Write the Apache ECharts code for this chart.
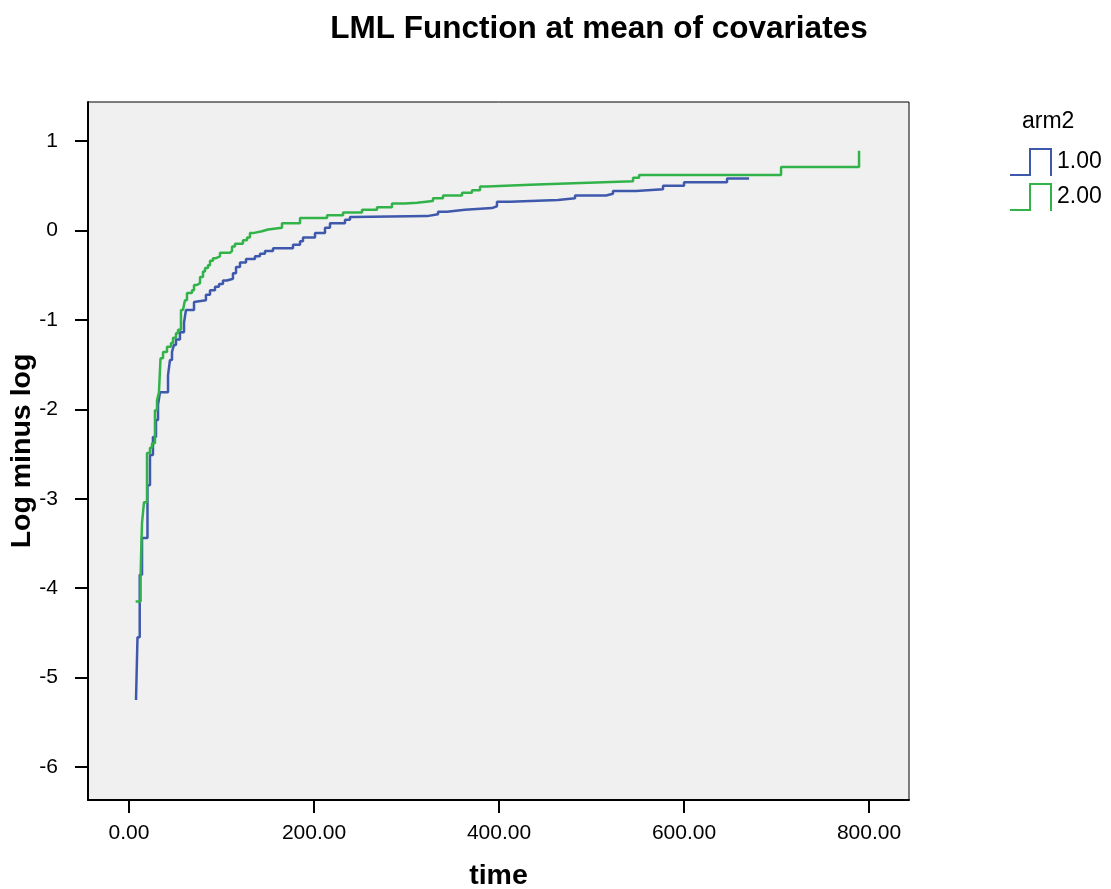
<!DOCTYPE html>
<html>
<head>
<meta charset="utf-8">
<script src="https://cdn.jsdelivr.net/npm/echarts@6/dist/echarts.min.js"></script>
<style>html,body{margin:0;padding:0;background:#fff}#c{width:1111px;height:889px}</style>
</head>
<body>
<div id="c"></div>
<script>
// arm2 = 1.00 : [time, log minus log]
const arm1 = [
 [7.6,-5.25],[9.2,-4.55],[11.6,-3.85],[14.1,-3.44],[20.0,-2.85],[22.7,-2.51],[25.9,-2.31],[29.2,-2.12],
 [31.4,-1.95],[33.5,-1.81],[42.2,-1.62],[44.3,-1.45],[46.5,-1.36],[48.6,-1.28],[50.8,-1.22],[55.1,-1.14],
 [59.5,-1.03],[61.6,-0.89],[70.3,-0.80],[72.4,-0.78],[83.2,-0.72],[87.6,-0.67],[93.0,-0.63],[97.3,-0.60],
 [101.6,-0.56],[105.9,-0.54],[112.4,-0.48],[115.7,-0.41],[120.0,-0.36],[126.5,-0.32],[136.2,-0.29],
 [141.6,-0.26],[147.0,-0.23],[155.7,-0.20],[177.3,-0.16],[184.9,-0.12],[188.1,-0.08],[201.1,-0.03],
 [211.9,0.03],[217.3,0.08],[233.5,0.12],[238.9,0.15],[242.2,0.16],[322.2,0.18],[334.1,0.21],[343.8,0.23],
 [363.2,0.25],[392.4,0.27],[397.8,0.32],[411.9,0.34],[463.8,0.36],[482.2,0.39],[515.7,0.41],[523.2,0.44],
 [548.1,0.46],[577.3,0.50],[600.0,0.54],[646.5,0.58],[670.3,0.58]
];
// arm2 = 2.00
const arm2 = [
 [7.2,-4.15],[12.6,-3.85],[13.5,-3.46],[14.1,-3.27],[15.1,-3.16],[16.2,-3.04],[19.5,-2.49],[22.7,-2.43],
 [24.9,-2.38],[28.1,-2.01],[30.3,-1.90],[32.4,-1.81],[34.1,-1.43],[36.8,-1.36],[41.1,-1.30],[45.4,-1.26],
 [47.6,-1.20],[50.8,-1.15],[53.0,-1.11],[56.2,-0.89],[58.4,-0.87],[60.5,-0.78],[62.7,-0.70],[68.1,-0.67],
 [70.3,-0.61],[73.5,-0.59],[76.8,-0.52],[80.0,-0.46],[82.2,-0.42],[85.4,-0.39],[87.6,-0.34],[90.8,-0.31],
 [94.1,-0.29],[98.4,-0.25],[109.2,-0.23],[111.4,-0.18],[114.6,-0.15],[123.2,-0.11],[127.6,-0.08],
 [130.8,-0.03],[134.1,-0.01],[143.8,0.01],[150.3,0.03],[165.4,0.08],[184.9,0.14],[214.1,0.17],[231.4,0.20],
 [251.9,0.23],[268.1,0.26],[284.3,0.30],[298.4,0.31],[311.4,0.33],[328.6,0.36],[339.5,0.39],[360.0,0.42],
 [370.8,0.45],[379.5,0.49],[387.0,0.51],[433.5,0.53],[488.6,0.55],[544.9,0.59],[551.4,0.62],[704.9,0.71],
 [789.2,0.89]
];
const xTicks = [0, 200, 400, 600, 800];
const yTicks = [-6, -5, -4, -3, -2, -1, 0, 1];
const seriesNames = ['1.00', '2.00'];

const FONT = 'Liberation Sans, Arial, sans-serif';
const chart = echarts.init(document.getElementById('c'), null, {renderer: 'canvas'});
// outlined step glyph (drawn as a thin filled outline)
const stepIcon = 'path://M0,26 L19,26 L19,0 L42,0 L42,28 L40,28 L40,2 L21,2 L21,28 L0,28 Z';
chart.setOption({
  animation: false,
  backgroundColor: '#fff',
  title: {
    text: 'LML Function at mean of covariates',
    left: 594, top: 8, textAlign: 'center',
    textStyle: {fontFamily: FONT, fontSize: 31.5, fontWeight: 'bold', color: '#000'}
  },
  graphic: [{
    type: 'text', left: 1022, top: 110,
    style: {text: 'arm2', fontFamily: FONT, fontSize: 23, fill: '#000'}
  }],
  legend: {
    orient: 'vertical', left: 1005, top: 143, itemGap: 7,
    itemWidth: 42, itemHeight: 28,
    icon: stepIcon,
    itemStyle: {borderWidth: 0},
    textStyle: {fontFamily: FONT, fontSize: 23, color: '#000'},
    data: seriesNames
  },
  grid: {
    left: 88, top: 102, right: 202, bottom: 89,
    outerBoundsMode: 'none', containLabel: false,
    show: true, backgroundColor: '#f0f0f0', borderColor: '#000', borderWidth: 1
  },
  xAxis: {
    type: 'value', min: -44.3, max: 843.2,
    name: 'time', nameLocation: 'middle', nameGap: 62, nameMoveOverlap: false,
    nameTextStyle: {fontFamily: FONT, fontSize: 28.5, fontWeight: 'bold', color: '#000'},
    axisLine: {show: true, onZero: false, lineStyle: {color: '#000', width: 2}},
    axisTick: {show: true, length: 13, customValues: xTicks, lineStyle: {color: '#000', width: 2}},
    axisLabel: {customValues: xTicks, margin: 23, fontFamily: FONT, fontSize: 21, color: '#000',
      formatter: v => Number(v).toFixed(2)},
    splitLine: {show: false}
  },
  yAxis: {
    type: 'value', min: -6.369, max: 1.436,
    name: 'Log minus log', nameLocation: 'middle', nameGap: 51, nameRotate: 90, nameMoveOverlap: false,
    nameTextStyle: {fontFamily: FONT, fontSize: 28.5, fontWeight: 'bold', color: '#000'},
    axisLine: {show: true, onZero: false, lineStyle: {color: '#000', width: 2}},
    axisTick: {show: true, length: 13, customValues: yTicks, lineStyle: {color: '#000', width: 2}},
    axisLabel: {customValues: yTicks, margin: 30, fontFamily: FONT, fontSize: 21, color: '#000',
      formatter: v => String(v)},
    splitLine: {show: false}
  },
  series: [
    {name: seriesNames[0], type: 'line', step: 'end', data: arm1, showSymbol: false, symbol: 'none',
     color: '#3e58ac', lineStyle: {color: '#3e58ac', width: 2.5}},
    {name: seriesNames[1], type: 'line', step: 'end', data: arm2, showSymbol: false, symbol: 'none',
     color: '#32b34a', lineStyle: {color: '#32b34a', width: 2.5}}
  ]
});
</script>
</body>
</html>
